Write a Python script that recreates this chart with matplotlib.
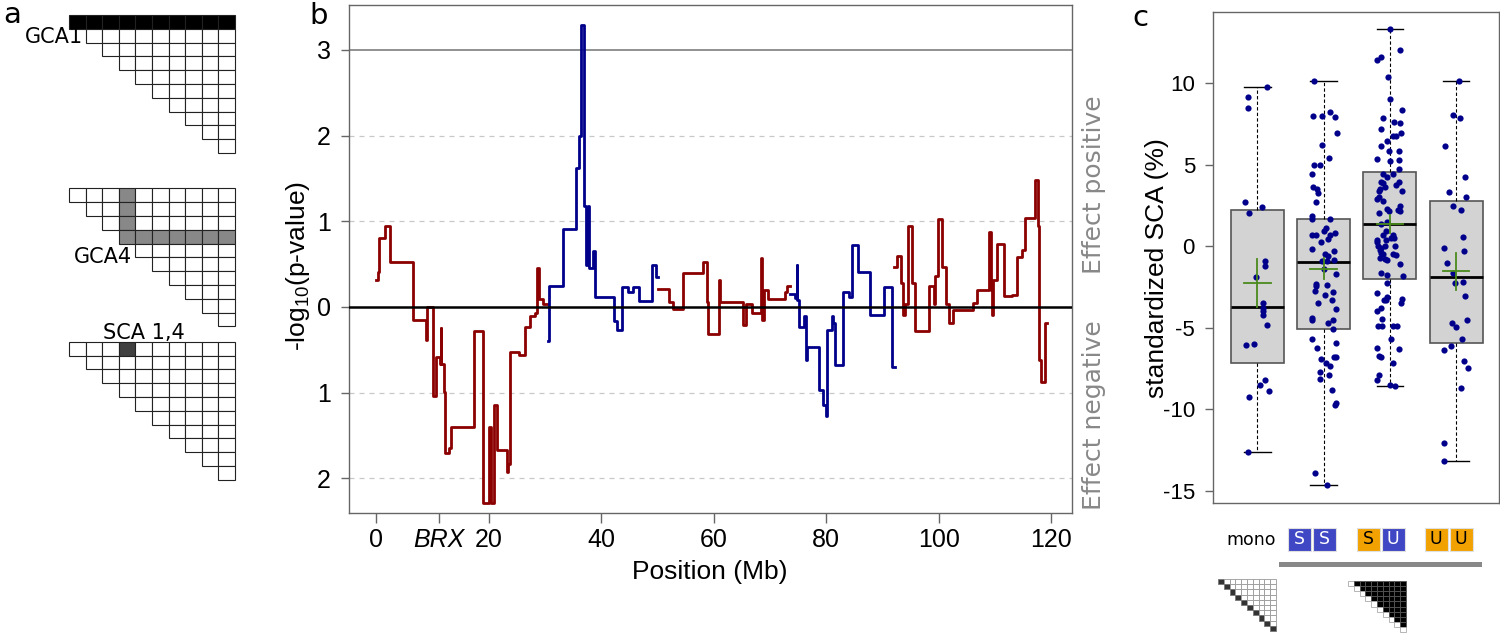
import matplotlib
matplotlib.use("Agg")
import matplotlib.pyplot as plt
import numpy as np
from matplotlib.patches import Rectangle

plt.rcParams['font.family'] = ['Liberation Sans', 'DejaVu Sans']
plt.rcParams['mathtext.default'] = 'regular'

# ---------------- Panel b data (step traces, Mb / signed -log10 p) ----------------
red1_pos = [0.0, 0.3, 0.6, 1.6, 2.4, 6.6, 8.9, 9.0, 10.1, 10.7, 11.4, 11.5, 11.6, 12.1, 12.3,
            12.9, 13.3, 17.5, 19.1, 20.0, 20.4, 21.0, 21.5, 23.2, 23.5, 23.8, 23.9, 25.5, 26.5,
            27.3, 28.3, 28.7, 28.9, 29.7, 30.6]
red1_val = [0.32, 0.41, 0.81, 0.95, 0.52, -0.15, -0.38, 0.0, -1.04, -0.58, -0.66, -0.25, -0.66,
            -0.99, -1.70, -1.65, -1.40, -0.28, -2.29, -1.40, -2.29, -1.14, -1.67, -1.93, -1.83,
            -1.13, -0.53, -0.56, -0.23, -0.11, -0.07, 0.45, 0.09, 0.03]

blue1_pos = [30.5, 30.7, 30.8, 33.3, 35.5, 36.1, 36.4, 36.9, 37.3, 37.6, 37.9, 38.6, 38.9, 42.3,
             42.8, 43.7, 44.7, 45.6, 46.8, 49.1, 49.8, 50.2]
blue1_val = [-0.40, -0.20, 0.25, 0.91, 1.62, 2.0, 3.29, 1.18, 0.49, 1.18, 0.45, 0.65, 0.12, -0.16,
             -0.27, 0.23, 0.17, 0.23, 0.07, 0.49, 0.35]

red2_pos = [50.1, 52.0, 52.7, 54.6, 58.2, 58.8, 59.0, 61.0, 61.2, 65.2, 65.8, 66.8, 68.4, 68.6,
            68.9, 69.7, 72.7, 73.1, 73.6]
red2_val = [0.21, 0.06, -0.02, 0.40, 0.52, 0.06, -0.31, 0.32, 0.06, -0.21, 0.03, -0.07, 0.57,
            -0.15, 0.20, 0.09, 0.17, 0.24]

blue2_pos = [73.6, 74.5, 74.8, 74.9, 75.1, 76.0, 76.5, 76.6, 78.8, 79.5, 80.0, 80.2, 81.0, 81.3,
             81.6, 83.0, 84.0, 84.6, 85.7, 87.8, 90.2, 91.7, 92.3]
blue2_val = [0.15, 0.10, 0.49, 0.08, -0.23, -0.11, -0.62, -0.47, -0.97, -1.14, -1.27, -0.27,
             -0.11, -0.19, -0.68, 0.18, 0.12, 0.72, 0.41, -0.09, 0.23, -0.70]

red3_pos = [92.15, 92.6, 93.3, 93.75, 94.0, 94.6, 95.3, 95.8, 98.2, 99.1, 99.4, 99.8, 100.6,
            101.3, 101.8, 102.6, 106.1, 106.8, 108.9, 109.3, 109.5, 109.7, 110.3, 111.6, 113.0,
            114.0, 114.8, 115.4, 117.2, 117.6, 117.9, 118.2, 118.9, 119.2]
red3_val = [0.47, 0.59, 0.28, -0.09, 0.04, 0.95, 0.28, -0.28, 0.24, 0.03, 0.36, 1.03, 0.47, 0.03,
            -0.19, -0.04, 0.05, 0.20, 0.87, 0.20, -0.09, 0.32, 0.73, 0.13, 0.14, 0.58, 0.67,
            1.04, 1.48, 0.94, -0.62, -0.87, -0.19]

threshold = 3
xtick_pos = [0, 11.2, 20, 40, 60, 80, 100, 120]
xtick_lab = ['0', 'BRX', '20', '40', '60', '80', '100', '120']
ytick_pos = [-2, -1, 0, 1, 2, 3]
ytick_lab = ['2', '1', '0', '1', '2', '3']

# ---------------- Panel c data ----------------
groups = ['mono', 'SS', 'SU', 'UU']
box_med = [-3.70, -1.00, 1.37, -1.92]
box_q1 = [-7.14, -5.09, -2.02, -5.91]
box_q3 = [2.21, 1.66, 4.56, 2.76]
box_lo = [-12.6, -14.62, -8.59, -13.19]
box_hi = [9.78, 10.10, 13.29, 10.10]
mean_val = [-2.27, -1.37, 1.37, -1.55]
mean_lo = [-3.70, -2.02, 0.82, -2.68]
mean_hi = [-0.80, -0.70, 1.88, -0.39]

vals1 = [9.78, 9.16, 8.47, 2.70, 2.41, 2.02, -0.92, -1.20, -1.88, -3.46, -3.78, -3.95, -4.21,
         -4.83, -6.05, -5.99, -8.22, -8.53, -8.85, -9.24, -12.6]
jit1 = [0.15, -0.14, -0.14, -0.19, 0.07, -0.13, 0.12, 0.11, -0.02, 0.09, 0.08, 0.08, 0.09, 0.14,
        -0.18, -0.06, 0.12, 0.04, 0.18, -0.13, -0.15]

vals2 = [10.10, 8.00, 8.00, 8.20, 7.93, 6.95, 6.20, 5.40, 4.97, 4.97, 4.44, 3.62, 3.52, 3.23,
         2.72, 1.86, 1.66, 1.64, 1.10, 0.90, 0.82, 0.70, 0.70, 0.67, 0.45, 0.27, -0.16, -0.27,
         -0.47, -0.61, -0.92, -0.92, -0.86, -1.37, -1.72, -2.31, -2.45, -2.74, -2.41, -2.80,
         -2.97, -3.27, -3.46, -3.84, -4.42, -4.54, -4.68, -4.52, -5.09, -5.66, -6.24, -5.93,
         -6.89, -6.81, -6.81, -7.14, -7.32, -7.69, -7.87, -8.12, -8.81, -9.61, -9.71, -13.93,
         -14.62]
jit2 = [-0.14, -0.16, -0.02, 0.10, 0.17, 0.20, -0.03, 0.08, -0.14, -0.05, -0.17, -0.16, -0.10,
        -0.08, -0.11, -0.17, 0.10, -0.17, 0.03, 0.0, 0.17, -0.17, -0.12, 0.10, 0.06, -0.04,
        -0.17, 0.15, 0.02, 0.06, -0.03, 0.05, 0.16, 0.0, 0.19, -0.12, -0.12, -0.13, 0.05, 0.14,
        0.02, 0.12, -0.09, 0.19, -0.17, -0.18, 0.07, 0.14, 0.14, -0.18, -0.10, 0.18, -0.04,
        0.16, 0.18, 0.04, 0.09, -0.06, 0.08, -0.05, 0.13, 0.18, 0.17, -0.13, 0.05]

vals3 = [13.29, 12.02, 11.62, 11.39, 10.37, 9.04, 8.36, 7.85, 7.63, 7.53, 7.16, 6.95, 6.75,
         6.73, 6.42, 6.13, 5.85, 5.85, 5.32, 5.21, 5.28, 4.70, 4.44, 4.44, 4.25, 3.93, 3.87,
         3.93, 3.64, 3.74, 3.48, 3.37, 3.37, 2.99, 2.86, 2.74, 2.45, 2.29, 2.17, 2.21, 2.13,
         2.04, 1.45, 1.33, 0.94, 0.70, 0.70, 0.53, 0.37, 0.39, 0.49, 0.25, -0.02, 0.0, 0.0,
         -0.14, -0.25, -0.41, -0.49, -0.53, -0.72, -0.47, -0.82, -0.78, -1.08, -1.62, -1.74,
         -1.80, -2.27, -2.88, -3.09, -3.29, -3.29, -3.23, -3.50, -3.95, -3.82, -4.46, -4.91,
         -4.87, -4.91, -4.87, -5.66, -6.26, -6.28, -6.75, -6.77, -7.16, -7.91, -8.22, -8.51,
         -8.59]
jit3 = [0, 0.15, -0.14, -0.19, -0.03, 0, 0.18, -0.10, 0.06, 0.15, -0.13, 0.17, 0.09, 0.05,
        -0.04, -0.14, -0.02, 0.14, -0.20, 0, 0.14, 0.14, -0.11, 0.05, -0.04, -0.14, -0.11, 0.14,
        -0.07, 0.09, -0.15, 0.18, -0.16, -0.17, -0.19, -0.11, 0.16, -0.04, -0.02, 0.12, 0.16,
        -0.17, -0.05, -0.14, -0.06, -0.11, 0.05, 0.02, -0.19, -0.06, 0.06, -0.19, -0.18, -0.07,
        0.07, -0.13, -0.15, -0.13, 0.04, 0.09, -0.15, -0.10, -0.04, -0.07, 0.16, -0.13, -0.05,
        0.20, -0.05, -0.19, -0.04, -0.09, -0.06, 0.19, 0.17, -0.19, -0.13, -0.12, -0.18, -0.12,
        0.04, 0.11, 0.02, -0.20, 0.14, -0.17, -0.13, 0.04, -0.17, -0.20, 0.0, 0.07]

vals4 = [10.10, 8.04, 7.83, 6.13, 4.21, 3.29, 3.01, 2.49, 2.23, 0.59, -0.12, -0.29, -1.02,
         -1.66, -2.27, -2.17, -3.07, -4.50, -4.68, -4.93, -5.66, -6.13, -6.34, -7.05, -7.44,
         -8.69, -12.07, -13.19]
jit4 = [0.04, -0.05, 0.06, -0.17, 0.13, -0.10, 0.15, -0.04, 0.08, 0.11, -0.18, 0.12, -0.13,
        -0.04, -0.02, 0.11, 0.13, 0.17, -0.06, 0.0, 0.09, -0.08, -0.19, 0.12, 0.18, 0.07, -0.19,
        -0.19]

yticks_c = [10, 5, 0, -5, -10, -15]

pair_letters = [['S', 'S'], ['S', 'U'], ['U', 'U']]
BLUE, ORANGE = '#4047c4', '#f2a200'
pair_colors = [[BLUE, BLUE], [ORANGE, BLUE], [ORANGE, ORANGE]]

n_parents = 10

# ---------------- figure ----------------
W, H = 1500, 633
fig = plt.figure(figsize=(15, 6.33), dpi=100)


def px_axes(l, t, r, b):
    return fig.add_axes([l / W, 1 - b / H, (r - l) / W, (b - t) / H])


# ---- Panel b ----
axb = px_axes(349, 5, 1072, 513)
RED, NAVY = '#8b0000', '#00008b'
for pos, val, col in [(red1_pos, red1_val, RED), (blue1_pos, blue1_val, NAVY),
                      (red2_pos, red2_val, RED), (blue2_pos, blue2_val, NAVY),
                      (red3_pos, red3_val, RED)]:
    axb.step(pos, np.append(val, val[-1]), where='post', color=col, lw=2.0, zorder=3)
for yv in [-2, -1, 1, 2]:
    axb.axhline(yv, color='#c8c8c8', lw=0.9, ls=(0, (4, 4)), zorder=1)
axb.axhline(threshold, color='#888888', lw=1.3, zorder=2)
axb.axhline(0, color='black', lw=1.8, zorder=4)
axb.set_xlim(-4.8, 123.7)
axb.set_ylim(-2.405, 3.525)
axb.set_xticks(xtick_pos)
axb.set_xticklabels(xtick_lab, fontsize=18)
for lab in axb.get_xticklabels():
    if lab.get_text() == 'BRX':
        lab.set_style('italic')
axb.set_yticks(ytick_pos)
axb.set_yticklabels(ytick_lab, fontsize=18)
axb.tick_params(axis='x', length=7, width=1, color='#666', pad=4)
axb.tick_params(axis='y', length=6, width=1, color='#666', pad=7)
for sp in axb.spines.values():
    sp.set_color('#666')
    sp.set_linewidth(1.0)

# ---- Panel c ----
axc = px_axes(1213, 12, 1499, 503)
stats = [dict(med=m, q1=a, q3=b, whislo=lo, whishi=hi, fliers=[], label=g)
         for g, m, a, b, lo, hi in zip(groups, box_med, box_q1, box_q3, box_lo, box_hi)]
positions = np.arange(1, len(groups) + 1)
axc.bxp(stats, positions=positions, widths=0.8, capwidths=0.4, patch_artist=True,
        showfliers=False,
        boxprops=dict(facecolor='#d3d3d3', edgecolor='#555555', linewidth=1.2),
        medianprops=dict(color='black', linewidth=2),
        whiskerprops=dict(color='black', linewidth=0.8, linestyle=(0, (3, 2))),
        capprops=dict(color='black', linewidth=1.0))
for p, vals, jit in zip(positions, [vals1, vals2, vals3, vals4], [jit1, jit2, jit3, jit4]):
    axc.scatter(p + np.array(jit), vals, s=20, color='#00008b', zorder=4, linewidths=0)
for p, m, lo, hi in zip(positions, mean_val, mean_lo, mean_hi):
    axc.plot([p - 0.2, p + 0.2], [m, m], color='#4a8a1c', lw=1.3, zorder=5)
    axc.plot([p, p], [lo, hi], color='#4a8a1c', lw=1.3, zorder=5)
axc.set_xlim(0.328, 4.648)
axc.set_ylim(-15.74, 14.35)
axc.set_xticks([])
axc.set_yticks(yticks_c)
axc.set_yticklabels([str(v) for v in yticks_c], fontsize=16)
axc.tick_params(axis='y', length=6, width=1, color='#666', pad=7)
for sp in axc.spines.values():
    sp.set_color('#666')
    sp.set_linewidth(1.0)

# ---- overlay in pixel coordinates ----
ov = fig.add_axes([0, 0, 1, 1])
ov.set_xlim(0, W)
ov.set_ylim(H, 0)
ov.axis('off')

DV = 'DejaVu Sans'
ov.text(12, 15, 'a', fontsize=21, family=DV, ha='center', va='center')
ov.text(319, 16, 'b', fontsize=21, family=DV, ha='center', va='center')
ov.text(1140, 18, 'c', fontsize=21, family=DV, ha='center', va='center')

ov.text(298, 266, '-log$_{10}$(p-value)', fontsize=19, rotation=90, ha='center', va='center')
ov.text(710, 572, 'Position (Mb)', fontsize=19, ha='center', va='center')
ov.text(1157, 268, 'standardized SCA (%)', fontsize=19, rotation=90, ha='center', va='center')
ov.text(1094, 185, 'Effect positive', fontsize=18, family=DV, color='#888888', rotation=90,
        ha='center', va='center')
ov.text(1094, 415, 'Effect negative', fontsize=18, family=DV, color='#888888', rotation=90,
        ha='center', va='center')


# Panel a: half-diallel triangles
def draw_triangle(x0, y0, cw, ch, fill_fn, edge='#222222', lw=0.8):
    for i in range(n_parents):
        for j in range(i, n_parents):
            fc, ec = fill_fn(i, j)
            ov.add_patch(Rectangle((x0 + j * cw, y0 + i * ch), cw, ch, facecolor=fc,
                                   edgecolor=ec if ec else edge, lw=lw))


draw_triangle(69, 15, 16.6, 13.8, lambda i, j: ('black' if i == 0 else 'white', None))
draw_triangle(69, 188.3, 16.6, 13.8,
              lambda i, j: ('#888888' if (j == 3 and i <= 3) or (i == 3 and j >= 3) else 'white', None))
draw_triangle(69, 341.7, 16.6, 13.8,
              lambda i, j: ('#404040' if (i == 0 and j == 3) else 'white', None))
ov.text(83, 37, 'GCA1', fontsize=15, family=DV, ha='right', va='center')
ov.text(132, 257, 'GCA4', fontsize=15, family=DV, ha='right', va='center')
ov.text(103, 333, 'SCA 1,4', fontsize=15, family=DV, ha='left', va='center')

# Below panel c: genotype classes
ov.text(1251, 540, 'mono', fontsize=12.5, family=DV, ha='center', va='center')
for k, (lets, cols) in enumerate(zip(pair_letters, pair_colors)):
    x_start = [1288, 1357, 1425][k]
    for m, (lt, cl) in enumerate(zip(lets, cols)):
        xl = x_start + m * 25
        ov.add_patch(Rectangle((xl, 528), 22.5, 23, facecolor=cl, edgecolor='#e0e0e0', lw=0.8))
        ov.text(xl + 11.25, 539.5, lt, fontsize=12.5, family=DV, ha='center', va='center',
                color='white' if cl == BLUE else 'black')
ov.add_patch(Rectangle((1279, 562), 203, 5, facecolor='#888888', edgecolor='none'))

draw_triangle(1218, 579, 5.8, 5.2,
              lambda i, j: ('#333333', '#777777') if i == j else ('white', '#999999'), lw=0.6)
draw_triangle(1348, 581, 5.8, 5.1,
              lambda i, j: ('white', '#aaaaaa') if i == j else ('black', '#555555'), lw=0.6)

fig.savefig('out.png', dpi=100)
